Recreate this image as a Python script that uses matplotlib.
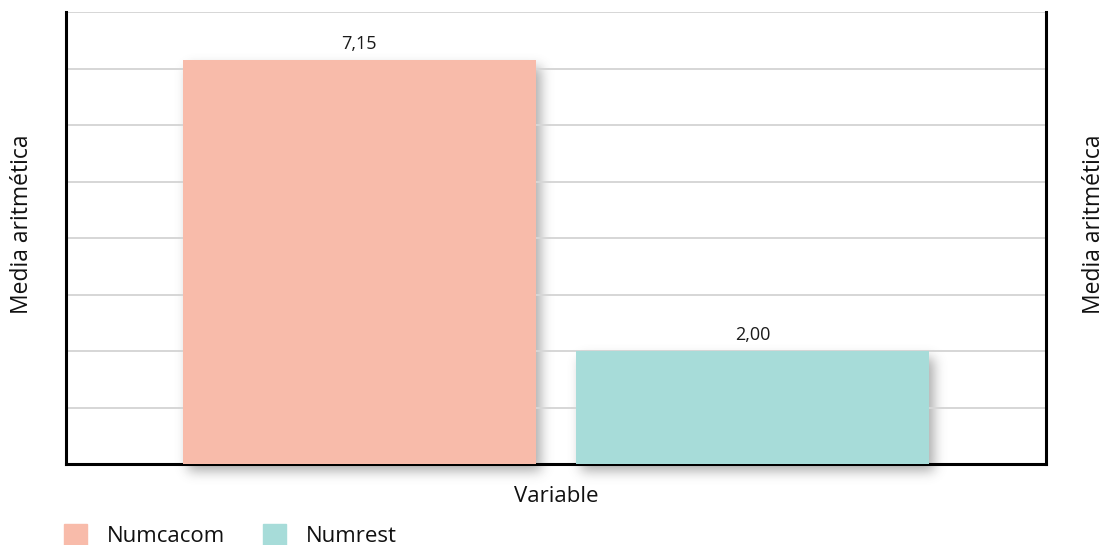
import numpy as np
import matplotlib
matplotlib.use("Agg")
import matplotlib.pyplot as plt
from matplotlib.patches import Rectangle

plt.rcParams['font.family'] = ['Open Sans', 'DejaVu Sans']

# Data
categories = ["Numcacom", "Numrest"]
values = [7.15, 2.00]
value_labels = ["7,15", "2,00"]
colors = ["#F8BBAA", "#A7DCD9"]
y_label = "Media aritmética"
x_label = "Variable"

W, H, DPI = 1106, 545, 100
fig = plt.figure(figsize=(W / DPI, H / DPI), dpi=DPI, facecolor="white")
ax = fig.add_axes([66 / W, (H - 464) / H, (1046 - 66) / W, (464 - 12) / H])
ax.set_facecolor("none")
ax.set_zorder(2)

x = np.arange(len(categories))
bars = ax.bar(x, values, width=0.897, color=colors, zorder=3)
ax.set_xlim(-0.746, 1.746)
ax.set_ylim(0, 8)
ax.set_yticks(np.arange(0, 9, 1))
ax.yaxis.grid(True, color="#D6D6D6", linewidth=1.4, zorder=0)
ax.set_axisbelow(True)
ax.tick_params(left=False, bottom=False, labelleft=False, labelbottom=False)
for side in ["left", "right", "bottom"]:
    ax.spines[side].set_linewidth(2.2)
    ax.spines[side].set_color("black")
ax.spines["top"].set_visible(False)

for xi, v, lab in zip(x, values, value_labels):
    ax.annotate(lab, (xi, v), xytext=(0, 5), textcoords="offset points",
                ha="center", va="bottom", fontsize=13, color="#1a1a1a")

# Soft drop shadow under the bars
fig.canvas.draw()
mask = np.zeros((H, W))
dx, dy = 5, 7
for b in bars:
    bb = b.get_window_extent()
    x0, x1 = int(round(bb.x0)) + dx, int(round(bb.x1)) + dx
    y0 = int(round(H - bb.y1)) + dy
    y1 = int(round(H - bb.y0)) + dy
    mask[max(y0, 0):min(y1, H), max(x0, 0):min(x1, W)] = 1.0
sigma = 6.0
r = int(3 * sigma)
k = np.exp(-0.5 * (np.arange(-r, r + 1) / sigma) ** 2)
k /= k.sum()
blur = np.apply_along_axis(lambda m: np.convolve(m, k, mode="same"), 0, mask)
blur = np.apply_along_axis(lambda m: np.convolve(m, k, mode="same"), 1, blur)
shadow = np.zeros((H, W, 4))
shadow[..., :3] = 0.35
shadow[..., 3] = blur * 0.5
fig.figimage(shadow, xo=0, yo=0, origin="upper", zorder=1)

fig.text(22 / W, 1 - 224 / H, y_label, rotation=90, ha="center", va="center",
         fontsize=16.5, color="#111111")
fig.text(1094 / W, 1 - 224 / H, y_label, rotation=90, ha="center", va="center",
         fontsize=16.5, color="#111111")
fig.text(556 / W, 1 - 497 / H, x_label, ha="center", va="center",
         fontsize=16, color="#111111")

# Legend
leg_x = [64, 263]
for lx, cat, col in zip(leg_x, categories, colors):
    fig.patches.append(Rectangle((lx / W, 1 - 546 / H), 23 / W, 22 / H,
                                 transform=fig.transFigure, color=col,
                                 zorder=3))
    fig.text((lx + 43) / W, 1 - 536 / H, cat, ha="left", va="center",
             fontsize=16, color="#111111")

fig.savefig("out.png", dpi=DPI, facecolor="white")
